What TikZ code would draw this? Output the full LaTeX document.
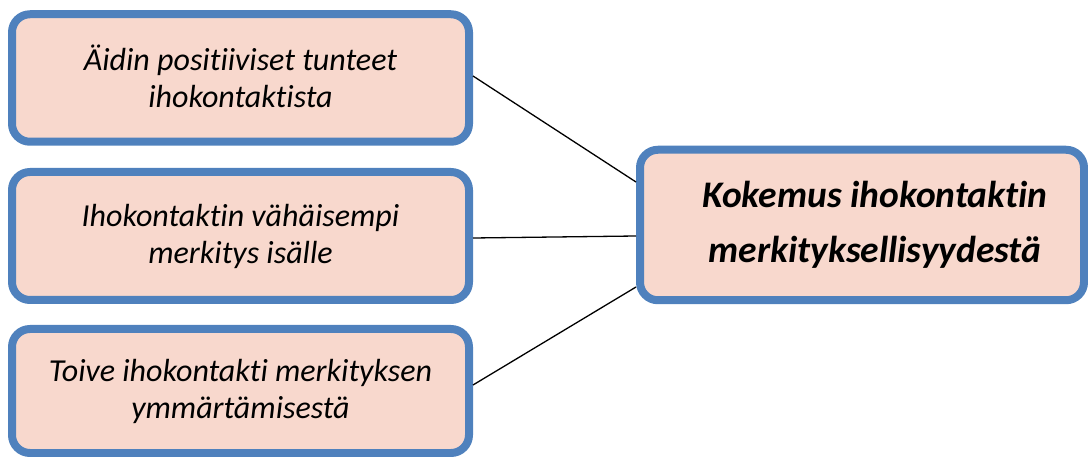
\documentclass[tikz,border=0pt]{standalone}
\usepackage{fontspec}
\setmainfont{Carlito}[Ligatures=NoCommon]
\definecolor{boxblue}{HTML}{4F81BD}
\definecolor{boxfill}{HTML}{F8D8CD}
\begin{document}
\begin{tikzpicture}[x=1pt,y=-1pt,
  box/.style={draw=boxblue, line width=8pt, fill=boxfill, rounded corners=18pt,
    align=center, inner sep=0pt, font=\itshape\fontsize{32}{37}\selectfont},
  mainbox/.style={box, font=\bfseries\itshape\fontsize{37.5}{55}\selectfont},
  link/.style={draw=black, line width=1.3pt}]
\useasboundingbox (0,0) rectangle (1088,457);
\node[box, minimum width=457pt, minimum height=127.5pt] (b1) at (240.5,78)
  {\smash{Ä}idin positiiviset tunteet\\ihokontaktista};
\node[box, minimum width=457pt, minimum height=128pt] (b2) at (240.5,236)
  {Ihokontaktin vähäisempi\\merkitys isälle};
\node[box, minimum width=457pt, minimum height=124pt] (b3) at (240.5,391)
  {Toive ihokontakti merkityksen\\ymmärtämisestä};
\node[mainbox, minimum width=444pt, minimum height=150.5pt] (k) at (862,225)
  {\hspace*{26pt}Kokemus ihokontaktin\\\hspace*{26pt}merkityksellisyydestä};
\draw[link] ([yshift=2pt]b1.east) -- ([yshift=43pt]k.west);
\draw[link] ([yshift=-2pt]b2.east) -- ([yshift=-11pt]k.west);
\draw[link] ([yshift=6pt]b3.east) -- ([yshift=-62pt]k.west);
\end{tikzpicture}
\end{document}
